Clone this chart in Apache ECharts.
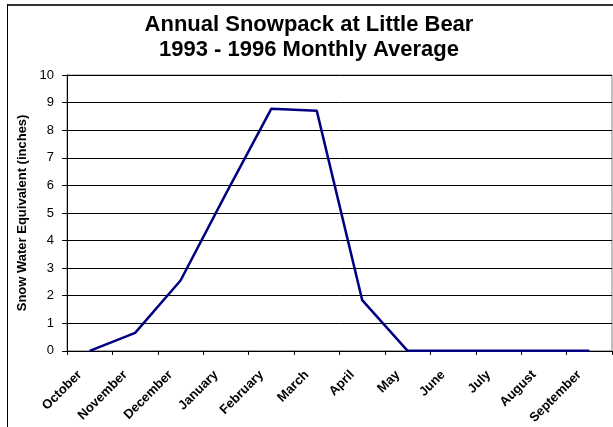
<!DOCTYPE html>
<html>
<head>
<meta charset="utf-8">
<script src="https://cdn.jsdelivr.net/npm/echarts@6/dist/echarts.min.js"></script>
<style>
  html, body { margin: 0; padding: 0; background: #fff; }
  #wrap { position: relative; width: 613px; height: 427px; }
  #chart { width: 613px; height: 427px; }
  #frameTop { position: absolute; left: 7px; top: 4px; width: 606px; height: 2px; background: #333; }
  #frameLeft { position: absolute; left: 7px; top: 4px; width: 1px; height: 423px; background: #000; }
</style>
</head>
<body>
<div id="wrap">
  <div id="chart"></div>
  <div id="frameTop"></div>
  <div id="frameLeft"></div>
</div>
<script>
// Monthly average snow water equivalent, water year Oct–Sep
const months = ['October', 'November', 'December', 'January', 'February', 'March',
                'April', 'May', 'June', 'July', 'August', 'September'];
const swe = [0, 0.65, 2.55, 5.7, 8.78, 8.7, 1.84, 0, 0, 0, 0, 0];
const yTicks = { min: 0, max: 10, interval: 1 };

const chart = echarts.init(document.getElementById('chart'), null, { renderer: 'canvas' });
const font = 'Liberation Sans, Arial, sans-serif';

chart.setOption({
  animation: false,
  backgroundColor: '#fff',
  title: {
    text: 'Annual Snowpack at Little Bear\n1993 - 1996 Monthly Average',
    left: 304,
    textAlign: 'center',
    top: 7,
    textStyle: { fontFamily: font, fontSize: 22, fontWeight: 'bold', color: '#000', lineHeight: 25 }
  },
  grid: {
    left: 67, right: 1, top: 75, bottom: 75,
    show: true, borderColor: '#808080', borderWidth: 1
  },
  xAxis: {
    type: 'category',
    data: months,
    boundaryGap: true,
    axisLine: { lineStyle: { color: '#000', width: 1 } },
    axisTick: { show: true, length: 4, lineStyle: { color: '#000' } },
    axisLabel: {
      rotate: 45, interval: 0, margin: 12,
      padding: [0, 14, 0, 0],
      fontFamily: font, fontSize: 13, fontWeight: 'bold', color: '#000'
    },
    splitLine: { show: false }
  },
  yAxis: {
    type: 'value',
    min: yTicks.min, max: yTicks.max, interval: yTicks.interval,
    name: 'Snow Water Equivalent (inches)',
    nameLocation: 'middle',
    nameRotate: 90,
    nameGap: 38,
    nameTextStyle: { fontFamily: font, fontSize: 13, fontWeight: 'bold', color: '#000' },
    axisLine: { show: true, lineStyle: { color: '#000', width: 1 } },
    axisTick: { show: true, length: 5, lineStyle: { color: '#000' } },
    axisLabel: { fontFamily: font, fontSize: 13, color: '#000', margin: 13 },
    splitLine: { show: true, lineStyle: { color: '#000', width: 1 } }
  },
  series: [{
    type: 'line',
    data: swe,
    symbol: 'none',
    lineStyle: { color: '#000080', width: 2.5 },
    itemStyle: { color: '#000080' }
  }]
});
</script>
</body>
</html>
